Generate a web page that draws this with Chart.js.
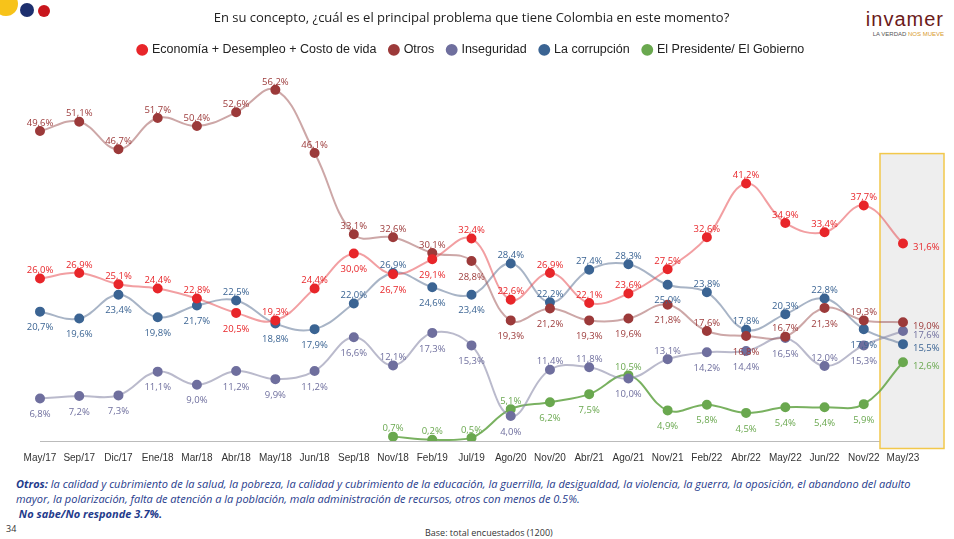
<!DOCTYPE html>
<html>
<head>
<meta charset="utf-8">
<script src="https://cdn.jsdelivr.net/npm/chart.js@4"></script>
<style>
body { margin: 0; background: #fff; font-family: "Open Sans", sans-serif; }
#wrap { position: absolute; left: 0; top: 0; width: 954px; height: 467px; }
.note { position: absolute; left: 16px; color: #1f3b8c; font-size: 11px; font-style: italic; }
.small { position: absolute; font-size: 9px; color: #333; }
.dot { position: absolute; border-radius: 50%; }
</style>
</head>
<body>
<div class="dot" style="left:-6px;top:-8px;width:24px;height:24px;background:#f7c31a"></div>
<div class="dot" style="left:20px;top:3px;width:14px;height:14px;background:#1d2f6e"></div>
<div class="dot" style="left:38px;top:5px;width:12px;height:12px;background:#c8161d"></div>
<div style="position:absolute;right:10px;top:8px;text-align:right;font-family:'Liberation Sans Narrow',sans-serif;">
  <div style="font-size:20px;color:#6b1a1a;letter-spacing:1px">invamer</div>
  <div style="font-size:6px;color:#555">LA VERDAD <span style="color:#d89a2a">NOS MUEVE</span></div>
</div>
<div id="wrap"><canvas id="c"></canvas></div>
<div class="note" style="top:476px;line-height:15px;width:920px"><b>Otros:</b> la calidad y cubrimiento de la salud, la pobreza, la calidad y cubrimiento de la educación, la guerrilla, la desigualdad, la violencia, la guerra, la oposición, el abandono del adulto mayor, la polarización, falta de atención a la población, mala administración de recursos, otros con menos de 0.5%.<br>&nbsp;<b>No sabe/No responde 3.7%.</b></div>
<div class="small" style="left:6px;top:522px">34</div>
<div class="small" style="left:425px;top:526px">Base: total encuestados (1200)</div>
<script>
const periods = ['May/17','Sep/17','Dic/17','Ene/18','Mar/18','Abr/18','May/18','Jun/18','Sep/18','Nov/18','Feb/19','Jul/19','Ago/20','Nov/20','Abr/21','Ago/21','Nov/21','Feb/22','Abr/22','May/22','Jun/22','Nov/22','May/23'];
const economia = [26.0,26.9,25.1,24.4,22.8,20.5,19.3,24.4,30.0,26.7,29.1,32.4,22.6,26.9,22.1,23.6,27.5,32.6,41.2,34.9,33.4,37.7,31.6];
const otros = [49.6,51.1,46.7,51.7,50.4,52.6,56.2,46.1,33.1,32.6,30.1,28.8,19.3,21.2,19.3,19.6,21.8,17.6,16.8,16.7,21.3,19.3,19.0];
const inseguridad = [6.8,7.2,7.3,11.1,9.0,11.2,9.9,11.2,16.6,12.1,17.3,15.3,4.0,11.4,11.8,10.0,13.1,14.2,14.4,16.5,12.0,15.3,17.6];
const corrupcion = [20.7,19.6,23.4,19.8,21.7,22.5,18.8,17.9,22.0,26.9,24.6,23.4,28.4,22.2,27.4,28.3,25.0,23.8,17.8,20.3,22.8,17.9,15.5];
const presidente = [null,null,null,null,null,null,null,null,null,0.7,0.2,0.5,5.1,6.2,7.5,10.5,4.9,5.8,4.5,5.4,5.4,5.9,12.6];

const series = [
  { label: 'Economía + Desempleo + Costo de vida', data: economia, color: '#e8262a', line: 'rgba(232,80,85,0.55)' },
  { label: 'Otros', data: otros, color: '#9c3a3a', line: 'rgba(156,80,80,0.5)' },
  { label: 'Inseguridad', data: inseguridad, color: '#6f6f9e', line: 'rgba(140,140,170,0.6)' },
  { label: 'La corrupción', data: corrupcion, color: '#3b6493', line: 'rgba(110,130,160,0.6)' },
  { label: 'El Presidente/ El Gobierno', data: presidente, color: '#6aa84f', line: 'rgba(106,168,79,0.9)' }
];

// shaded box around the last period
const highlight = {
  id: 'highlight',
  beforeDatasetsDraw(chart) {
    const x = chart.scales.x, y = chart.scales.y, ctx = chart.ctx;
    const cx = x.getPixelForValue(periods.length - 1);
    const top = y.getPixelForValue(46), bot = y.getPixelForValue(-1.2);
    ctx.save();
    ctx.fillStyle = '#eeeeee';
    ctx.strokeStyle = '#f2c84b';
    ctx.lineWidth = 1.5;
    ctx.fillRect(cx - 23, top, 64, bot - top);
    ctx.strokeRect(cx - 23, top, 64, bot - top);
    ctx.restore();
  }
};

// value labels: above if nearest other series is below, else below; last period to the right
const labels = {
  id: 'labels',
  afterDatasetsDraw(chart) {
    const ctx = chart.ctx;
    const last = periods.length - 1;
    ctx.save();
    ctx.font = '9.5px "Open Sans", sans-serif';
    series.forEach((s, si) => {
      const meta = chart.getDatasetMeta(si);
      s.data.forEach((v, i) => {
        if (v === null) return;
        const p = meta.data[i];
        const txt = v.toFixed(1).replace('.', ',') + '%';
        ctx.fillStyle = s.color;
        if (i === last) {
          ctx.textAlign = 'left';
          ctx.fillText(txt, p.x + 10, p.y + 4);
          return;
        }
        let near = null, d = 1e9;
        series.forEach((o, oi) => {
          const ov = o.data[i];
          if (oi === si || ov === null) return;
          if (Math.abs(ov - v) < d) { d = Math.abs(ov - v); near = ov; }
        });
        const above = near === null || near < v || v < 3;
        ctx.textAlign = 'center';
        ctx.fillText(txt, p.x, above ? p.y - 8 : p.y + 16);
      });
    });
    ctx.restore();
  }
};

new Chart(document.getElementById('c'), {
  type: 'line',
  data: {
    labels: periods,
    datasets: series.map(s => ({
      label: s.label,
      data: s.data,
      borderColor: s.line,
      backgroundColor: s.color,
      pointBackgroundColor: s.color,
      pointBorderColor: s.color,
      pointRadius: 4,
      borderWidth: 2,
      tension: 0.4
    }))
  },
  options: {
    responsive: true,
    maintainAspectRatio: false,
    animation: false,
    layout: { padding: { left: 40, right: 51, top: 0 } },
    plugins: {
      title: {
        display: true,
        text: 'En su concepto, ¿cuál es el principal problema que tiene Colombia en este momento?',
        color: '#222', font: { size: 13, family: 'Open Sans', weight: 'normal' },
        padding: { top: 10, bottom: 4 }
      },
      legend: {
        labels: { usePointStyle: true, pointStyle: 'circle', boxWidth: 7, boxHeight: 7, color: '#222', font: { size: 12.5 }, padding: 14 }
      },
      tooltip: { enabled: false }
    },
    scales: {
      x: { grid: { display: false }, border: { color: '#bbb' }, ticks: { color: '#333', font: { size: 10 }, maxRotation: 0, autoSkip: false } },
      y: { display: false, min: 0, max: 60 }
    }
  },
  plugins: [highlight, labels]
});
</script>
</body>
</html>
